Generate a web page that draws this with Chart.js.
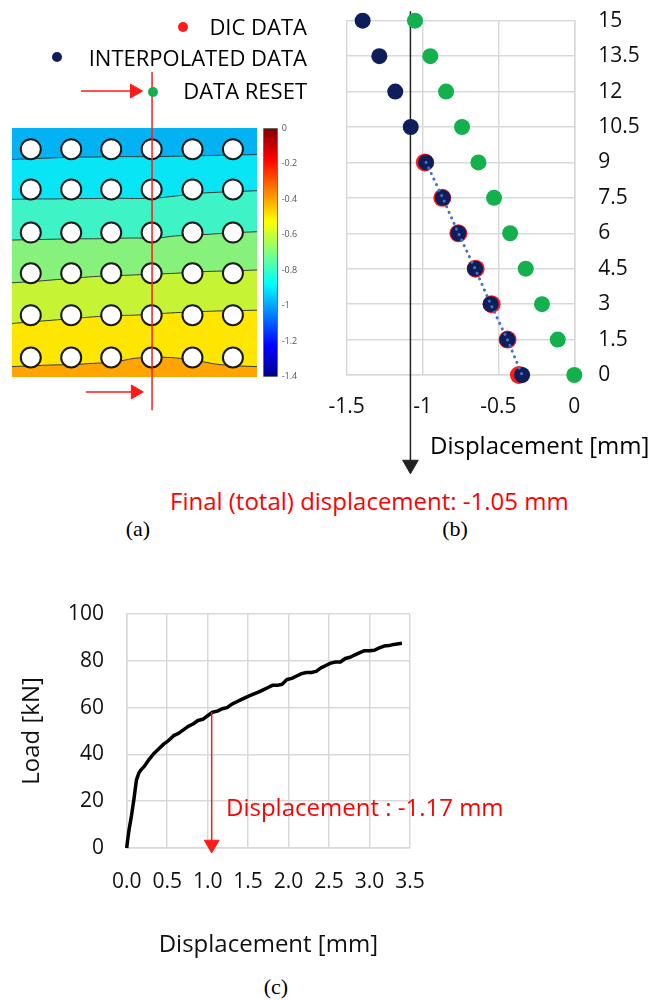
<!DOCTYPE html>
<html>
<head>
<meta charset="utf-8">
<title>DIC displacement</title>
<script src="https://cdn.jsdelivr.net/npm/chart.js@4.4.1/dist/chart.umd.min.js"></script>
<style>
  body { margin: 0; width: 650px; height: 1000px; background: #fff; position: relative; overflow: hidden; font-family: "Open Sans", sans-serif; }
  .pane { position: absolute; }
  .txt { position: absolute; line-height: 1; white-space: nowrap; }
  .dot { position: absolute; width: 10px; height: 10px; border-radius: 50%; }
  .cap { position: absolute; width: 40px; text-align: center; font-family: "Liberation Serif", serif; font-size: 22px; line-height: 1; }
</style>
</head>
<body>
<div class="pane" style="left:0;top:0;width:320px;height:430px"><canvas id="contour"></canvas></div>
<div class="pane" style="left:258px;top:118px;width:50px;height:270px"><canvas id="cbar"></canvas></div>
<div class="pane" style="left:320px;top:0;width:330px;height:480px"><canvas id="profile"></canvas></div>
<div class="pane" style="left:0;top:590px;width:650px;height:380px"><canvas id="load"></canvas></div>

<!-- legend of (b) -->
<span class="dot" style="left:178px;top:22px;background:#ff1a1a"></span>
<div class="txt" style="right:343px;top:15px;font-size:22px">DIC DATA</div>
<span class="dot" style="left:52px;top:52px;background:#0e1e5b"></span>
<div class="txt" style="right:343px;top:46px;font-size:22px">INTERPOLATED DATA</div>
<span class="dot" style="left:148px;top:87px;background:#13b14d"></span>
<div class="txt" style="right:343px;top:79px;font-size:22px">DATA RESET</div>

<div class="txt" style="left:430px;top:433px;font-size:24px">Displacement [mm]</div>
<div class="txt" style="left:170px;top:489px;font-size:24px;color:#ff0000">Final (total) displacement: -1.05 mm</div>
<div class="txt" style="left:226px;top:795px;font-size:24px;color:#ff0000">Displacement : -1.17 mm</div>

<div class="cap" style="left:118px;top:518px">(a)</div>
<div class="cap" style="left:435px;top:518px">(b)</div>
<div class="cap" style="left:256px;top:976px">(c)</div>

<script>
// ---- (a) contour of the specimen, displacement field ----
const bandX = [0, 0.5, 1, 1.5, 2, 2.5, 3, 3.5, 4, 4.5, 5, 5.5, 6];
const bandTop = [6, 6, 6, 6, 6, 6, 6, 6, 6, 6, 6, 6, 6];
const band1 = [5.24, 5.26, 5.28, 5.30, 5.30, 5.31, 5.31, 5.31, 5.32, 5.33, 5.34, 5.35, 5.36];
const band2 = [4.28, 4.29, 4.29, 4.30, 4.30, 4.31, 4.30, 4.31, 4.36, 4.42, 4.45, 4.47, 4.49];
const band3 = [3.30, 3.31, 3.32, 3.33, 3.33, 3.34, 3.35, 3.34, 3.40, 3.42, 3.45, 3.48, 3.50];
const band4 = [2.27, 2.30, 2.34, 2.38, 2.42, 2.44, 2.46, 2.48, 2.50, 2.53, 2.55, 2.56, 2.58];
const band5 = [1.29, 1.33, 1.37, 1.41, 1.45, 1.48, 1.49, 1.52, 1.55, 1.57, 1.59, 1.60, 1.61];
const band6 = [0.25, 0.27, 0.29, 0.30, 0.33, 0.36, 0.45, 0.48, 0.46, 0.40, 0.31, 0.27, 0.25];
const holeCols = [0.46, 1.45, 2.43, 3.42, 4.42, 5.41];
const holeRows = [5.49, 4.52, 3.48, 2.50, 1.49, 0.47];
const cutX = 3.43;
const cutSpan = [7.35, -0.8];
const arrowTop = { y: 6.89, from: 1.69, to: 3.0 };
const arrowBottom = { y: -0.36, from: 1.81, to: 3.02 };
const cbarRange = [-1.4, 0];

// ---- (b) displacement profile ----
const levels = [15, 13.5, 12, 10.5, 9, 7.5, 6, 4.5, 3, 1.5, 0];
const interpolated = [-1.395, -1.285, -1.18, -1.078, -0.977, -0.867, -0.764, -0.654, -0.551, -0.441, -0.344];
const dicLevels = [9, 7.5, 6, 4.5, 3, 1.5, 0];
const dicData = [-0.985, -0.87, -0.764, -0.65, -0.545, -0.44, -0.365];
const resetData = [-1.05, -0.949, -0.845, -0.74, -0.632, -0.529, -0.423, -0.32, -0.213, -0.109, 0];
const finalDisp = -1.08;
const finalSpan = [15.4, -3.8];

// ---- (c) load vs displacement ----
const loadDisp = [0, 0.01, 0.03, 0.06, 0.09, 0.12, 0.15, 0.18, 0.22, 0.28, 0.34, 0.40, 0.46, 0.52, 0.58, 0.64, 0.70, 0.76, 0.82, 0.88, 0.94, 1.00, 1.06, 1.12, 1.18, 1.24, 1.30, 1.36, 1.42, 1.48, 1.55, 1.62, 1.68, 1.74, 1.80, 1.86, 1.92, 1.98, 2.04, 2.10, 2.16, 2.22, 2.28, 2.34, 2.40, 2.46, 2.52, 2.58, 2.64, 2.70, 2.76, 2.82, 2.88, 2.94, 3.00, 3.06, 3.12, 3.18, 3.24, 3.30, 3.36, 3.40];
const loadKN = [0, 3, 8, 14, 21, 29, 32, 33.5, 35, 38, 40.5, 42.5, 44.5, 46, 48, 49, 50.5, 52, 53, 54.5, 55, 56.5, 58, 58.5, 59.5, 60, 61.5, 62.5, 63.5, 64.5, 65.5, 66.5, 67.5, 68.5, 69.5, 69.5, 70, 72, 72.5, 73.5, 74.5, 75, 75, 75.5, 77, 78, 79, 79.5, 79.5, 81, 81.5, 82.5, 83.5, 84.3, 84.3, 84.5, 85.5, 86.3, 86.5, 87, 87.3, 87.5];
const markDisp = 1.05;
const markSpan = [58, 1.5];

Chart.defaults.font.family = "'Open Sans', sans-serif";
Chart.defaults.color = '#111';
Chart.defaults.animation = false;
Chart.defaults.events = [];
Chart.defaults.plugins.legend.display = false;
Chart.defaults.plugins.tooltip.enabled = false;

// arrow heads sit outside the chart area, where chart.js skips points, so draw them here
const arrowHeads = {
  id: 'arrowHeads',
  afterDatasetsDraw(chart) {
    const ctx = chart.ctx;
    chart.data.datasets.forEach((ds, i) => {
      if (!ds.head) return;
      const meta = chart.getDatasetMeta(i);
      const tip = meta.data[meta.data.length - 1];
      ctx.save();
      ctx.fillStyle = ds.borderColor;
      ctx.strokeStyle = ds.borderColor;
      Chart.helpers.drawPoint(ctx, { pointStyle: 'triangle', rotation: ds.head.rotation, radius: ds.head.radius, borderWidth: 1 }, tip.x, tip.y);
      ctx.restore();
    });
  }
};
Chart.register(arrowHeads);

function pts(xs, ys) {
  return xs.map((x, i) => ({ x: x, y: ys[i] }));
}
function band(ys, color, line) {
  return { data: pts(bandX, ys), fill: 'start', backgroundColor: color, borderColor: '#3a3a3a',
           borderWidth: line ? 1 : 0, pointRadius: 0, tension: 0.3 };
}
function arrow(data, rot, r, color, w) {
  return { data: data, borderColor: color, borderWidth: w, pointRadius: 0, clip: false,
           head: { rotation: rot, radius: r } };
}

const holes = [];
holeRows.forEach(r => holeCols.forEach(c => holes.push({ x: c, y: r })));

new Chart(document.getElementById('contour'), {
  type: 'line',
  data: {
    datasets: [
      { data: [{ x: cutX, y: cutSpan[0] }, { x: cutX, y: cutSpan[1] }], borderColor: '#ff1a1a', borderWidth: 1.5, pointRadius: 0, clip: false },
      arrow([{ x: arrowTop.from, y: arrowTop.y }, { x: arrowTop.to, y: arrowTop.y }], 90, 8, '#ff1a1a', 1.5),
      arrow([{ x: arrowBottom.from, y: arrowBottom.y }, { x: arrowBottom.to, y: arrowBottom.y }], 90, 8, '#ff1a1a', 1.5),
      { data: holes, showLine: false, pointStyle: 'circle', pointRadius: 10, pointBackgroundColor: '#fff', pointBorderColor: '#1a1a1a', pointBorderWidth: 2 },
      band(band6, '#ffa400', true),
      band(band5, '#ffe600', true),
      band(band4, '#c6f434', true),
      band(band3, '#86f27c', true),
      band(band2, '#3ef4c6', true),
      band(band1, '#08e6f6', true),
      band(bandTop, '#03b2f2', false)
    ]
  },
  options: {
    responsive: true, maintainAspectRatio: false,
    layout: { padding: { left: 12, right: 63, top: 128, bottom: 53 } },
    scales: {
      x: { type: 'linear', min: 0, max: 6, display: false },
      y: { type: 'linear', min: 0, max: 6, display: false }
    }
  }
});

new Chart(document.getElementById('cbar'), {
  type: 'bar',
  data: {
    labels: ['cb'],
    datasets: [{
      data: [cbarRange],
      barPercentage: 1, categoryPercentage: 1,
      borderWidth: 1, borderColor: '#333', borderSkipped: false,
      backgroundColor: ctx => {
        const a = ctx.chart.chartArea;
        if (!a) return '#00ffff';
        const g = ctx.chart.ctx.createLinearGradient(0, a.bottom, 0, a.top);
        g.addColorStop(0, '#00008f');
        g.addColorStop(0.125, '#0000ff');
        g.addColorStop(0.375, '#00ffff');
        g.addColorStop(0.625, '#ffff00');
        g.addColorStop(0.875, '#ff0000');
        g.addColorStop(1, '#800000');
        return g;
      }
    }]
  },
  options: {
    responsive: true, maintainAspectRatio: false,
    layout: { padding: { left: 5.3, top: 10.3, bottom: 11.3, right: 0 } },
    scales: {
      x: { display: false },
      y: {
        position: 'right', min: cbarRange[0], max: cbarRange[1],
        grid: { display: false, drawTicks: false }, border: { display: false },
        ticks: { stepSize: 0.2, padding: 4, font: { size: 9 }, color: '#555', callback: v => String(+v.toFixed(1)) },
        afterFit: s => { s.width = 30.3; }
      }
    }
  }
});

// tick gap made with an invisible tick mark so it does not widen the layout padding
function gridGray(gap) {
  return { color: '#d9d9d9', lineWidth: 1.5, drawTicks: true, tickLength: gap, tickColor: 'rgba(0,0,0,0)' };
}
const borderGray = { color: '#d9d9d9', width: 1.5 };

new Chart(document.getElementById('profile'), {
  type: 'line',
  data: {
    datasets: [
      { data: pts(interpolated.slice(4), levels.slice(4)), borderColor: '#4472c4', borderWidth: 3,
        borderDash: [0.1, 6], borderCapStyle: 'round', pointRadius: 0, clip: false },
      { data: pts(interpolated, levels), showLine: false, pointRadius: 8, pointBackgroundColor: '#0e1e5b',
        pointBorderColor: '#0e1e5b', pointBorderWidth: 0, clip: false },
      { data: pts(dicData, dicLevels), showLine: false, pointRadius: 9, pointBackgroundColor: '#ff1a1a',
        pointBorderColor: '#ff1a1a', pointBorderWidth: 0, clip: false },
      { data: pts(resetData, levels), showLine: false, pointRadius: 8, pointBackgroundColor: '#13b14d',
        pointBorderColor: '#13b14d', pointBorderWidth: 0, clip: false },
      arrow([{ x: finalDisp, y: finalSpan[0] }, { x: finalDisp, y: finalSpan[1] }], 180, 9, '#222', 1.5)
    ]
  },
  options: {
    responsive: true, maintainAspectRatio: false,
    layout: { padding: { left: 26.7, top: 20.7, right: 0, bottom: 0 } },
    scales: {
      x: {
        type: 'linear', min: -1.5, max: 0, position: 'bottom',
        grid: gridGray(19), border: borderGray,
        ticks: { stepSize: 0.5, padding: 0, font: { size: 21 }, callback: v => String(+v.toFixed(2)) },
        afterFit: s => { s.height = 105; }
      },
      y: {
        type: 'linear', min: 0, max: 15, position: 'right',
        grid: gridGray(24), border: borderGray,
        ticks: { stepSize: 1.5, padding: 0, font: { size: 21 }, callback: v => String(+v.toFixed(2)) },
        afterFit: s => { s.width = 75.7; }
      }
    }
  }
});

new Chart(document.getElementById('load'), {
  type: 'line',
  data: {
    datasets: [
      arrow([{ x: markDisp, y: markSpan[0] }, { x: markDisp, y: markSpan[1] }], 180, 8.5, '#ff1a1a', 1.5),
      { data: pts(loadDisp, loadKN), borderColor: '#000', borderWidth: 3.5, borderJoinStyle: 'round',
        pointRadius: 0, tension: 0, clip: false }
    ]
  },
  options: {
    responsive: true, maintainAspectRatio: false,
    layout: { padding: { left: 0, top: 24, right: 240, bottom: 0 } },
    scales: {
      x: {
        type: 'linear', min: 0, max: 3.5,
        grid: gridGray(21), border: borderGray,
        ticks: { stepSize: 0.5, padding: 0, font: { size: 21 }, callback: v => v.toFixed(1) },
        title: { display: true, text: 'Displacement [mm]', font: { size: 24 }, padding: { top: 0, bottom: 10.6 } },
        afterFit: s => { s.height = 122; }
      },
      y: {
        type: 'linear', min: 0, max: 100,
        grid: gridGray(22.7), border: borderGray,
        ticks: { stepSize: 20, padding: 0, font: { size: 21 } },
        title: { display: true, text: 'Load [kN]', font: { size: 24 }, padding: { top: 17.6, bottom: 0 } },
        afterFit: s => { s.width = 126.7; }
      }
    }
  }
});
</script>
</body>
</html>
